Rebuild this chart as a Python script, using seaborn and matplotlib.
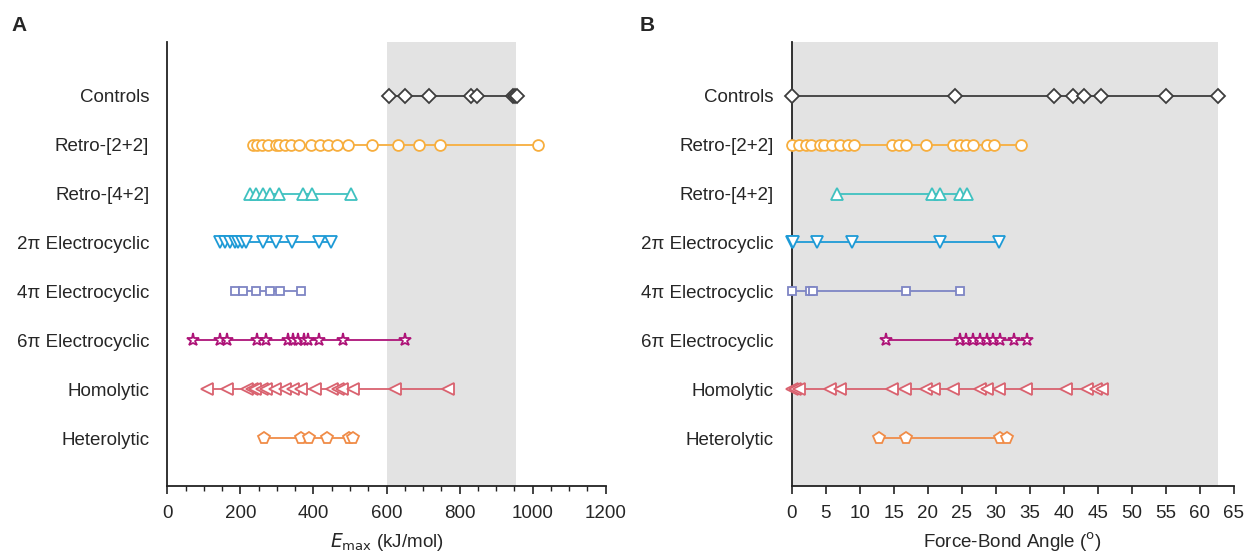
import matplotlib
matplotlib.use("Agg")
import matplotlib.pyplot as plt
import seaborn as sns
import pandas as pd
from matplotlib.ticker import MultipleLocator

sns.set_theme(style="white")
plt.rcParams['font.family'] = ['Liberation Sans', 'DejaVu Sans']

categories = ["Controls", "Retro-[2+2]", "Retro-[4+2]", "2π Electrocyclic",
              "4π Electrocyclic", "6π Electrocyclic", "Homolytic", "Heterolytic"]

# Panel A: E_max (kJ/mol)
emax_controls = [606, 651, 716, 830, 848, 945, 952, 958]
emax_retro22 = [235, 246, 260, 276, 297, 306, 323, 339, 360, 393, 417, 441, 464, 494, 559, 631, 690, 746, 1015]
emax_retro42 = [226, 243, 261, 281, 305, 371, 395, 502]
emax_2pi = [144, 158, 172, 185, 194, 204, 215, 263, 298, 340, 416, 447]
emax_4pi = [185, 208, 242, 281, 308, 366]
emax_6pi = [71, 144, 163, 245, 270, 330, 343, 359, 374, 386, 416, 480, 651]
emax_homo = [108, 163, 219, 231, 240, 258, 270, 295, 322, 345, 365, 404, 450, 468, 477, 509, 623, 769]
emax_hetero = [265, 366, 388, 436, 498, 507]

# Panel B: force-bond angle (degrees)
ang_controls = [0.0, 24.0, 38.6, 41.4, 43.0, 45.5, 55.1, 62.7]
ang_retro22 = [0.0, 1.1, 2.1, 2.9, 4.2, 4.7, 6.0, 7.1, 8.3, 9.2, 14.7, 15.8, 16.8, 19.8, 23.7, 24.8, 25.7, 26.7, 28.7, 29.7, 33.7]
ang_retro42 = [6.6, 20.7, 21.8, 24.8, 25.8]
ang_2pi = [0.0, 0.2, 3.7, 8.8, 21.8, 30.5]
ang_4pi = [0.0, 2.7, 3.2, 16.8, 24.8]
ang_6pi = [13.8, 24.8, 25.7, 26.7, 27.7, 28.7, 29.6, 30.6, 32.7, 34.6]
ang_homo = [0.0, 0.5, 1.1, 5.6, 7.1, 14.7, 16.7, 19.7, 20.9, 23.7, 27.7, 28.7, 30.5, 34.5, 40.4, 43.5, 44.7, 45.7]
ang_hetero = [12.9, 16.8, 30.7, 31.7]

emax = [emax_controls, emax_retro22, emax_retro42, emax_2pi, emax_4pi, emax_6pi, emax_homo, emax_hetero]
angle = [ang_controls, ang_retro22, ang_retro42, ang_2pi, ang_4pi, ang_6pi, ang_homo, ang_hetero]

colors = ["#3d3d3d", "#F7AE3E", "#3FC1C0", "#1D9AD6", "#7E85C4", "#AE1478", "#D9626F", "#F08C48"]
markers = ["D", "o", "^", "v", "s", "*", "<", "p"]
msizes = [7.5, 7.8, 8.5, 8.5, 6, 9.5, 9, 8.5]

fig = plt.figure(figsize=(12.44, 5.56), dpi=100)
axA = fig.add_axes([0.1345, 0.126, 0.3524, 0.7986])
axB = fig.add_axes([0.6364, 0.126, 0.3553, 0.7986])


def draw(ax, data):
    for i, (cat, vals) in enumerate(zip(categories, data)):
        df = pd.DataFrame({"val": vals, "row": [i] * len(vals)})
        sns.lineplot(data=df, x="val", y="row", ax=ax, estimator=None, sort=True,
                     color=colors[i], lw=1.3, marker=markers[i], markersize=msizes[i],
                     markerfacecolor="white", markeredgecolor=colors[i],
                     markeredgewidth=1.3, zorder=3, legend=False, clip_on=False)
    ax.set_ylim(7.98, -1.1)
    ax.set_yticks(range(len(categories)))
    ax.set_yticklabels(categories, fontsize=13.5)
    ax.tick_params(axis="y", length=0, pad=13)
    for s in ["top", "right"]:
        ax.spines[s].set_visible(False)
    for s in ["left", "bottom"]:
        ax.spines[s].set_color("#222222")
        ax.spines[s].set_linewidth(1.3)
    ax.tick_params(axis="x", which="major", direction="out", length=6, width=1.2,
                   color="#222222", labelsize=13.5, pad=8, bottom=True)
    ax.tick_params(axis="x", which="minor", direction="out", length=3.5, width=1.0,
                   color="#222222", bottom=True)
    ax.set_facecolor("white")


draw(axA, emax)
axA.axvspan(600, 955, color="#E3E3E3", zorder=0, lw=0)
axA.set_xlim(0, 1200)
axA.xaxis.set_major_locator(MultipleLocator(200))
axA.xaxis.set_minor_locator(MultipleLocator(50))
axA.set_xlabel(r"$E_{\mathrm{max}}$ (kJ/mol)", fontsize=13.5, labelpad=6)
axA.set_ylabel("")

draw(axB, angle)
axB.axvspan(0, 62.7, color="#E3E3E3", zorder=0, lw=0)
axB.set_xlim(0, 65)
axB.xaxis.set_major_locator(MultipleLocator(5))
axB.set_xlabel(r"Force-Bond Angle ($^{\mathrm{o}}$)", fontsize=13.5, labelpad=6)
axB.set_ylabel("")

fig.text(0.009, 0.954, "A", fontsize=15, fontweight="bold", va="center", ha="left")
fig.text(0.514, 0.954, "B", fontsize=15, fontweight="bold", va="center", ha="left")

fig.savefig("out.png", dpi=100)
